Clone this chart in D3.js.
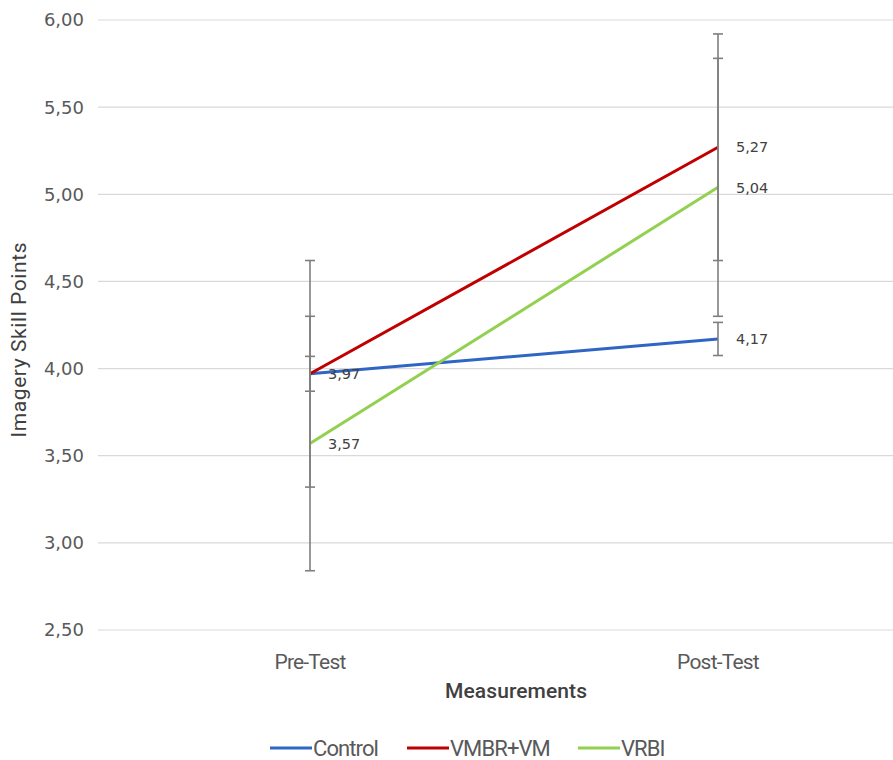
<!DOCTYPE html>
<html><head><meta charset="utf-8">
<script src="https://cdn.jsdelivr.net/npm/d3@7"></script>
<style>body{margin:0;background:#fff}</style>
</head><body>
<svg id="c" width="893" height="760"></svg>
<script>
const categories = ["Pre-Test", "Post-Test"];
const seriesNames = ["Control", "VMBR+VM", "VRBI"];
const controlValues = [3.97, 4.17];
const vmbrValues = [3.97, 5.27];
const vrbiValues = [3.57, 5.04];
const controlErr = [0.10, 0.095];
const vmbrErr = [0.65, 0.65];
const vrbiErr = [0.73, 0.74];
const yTicks = [2.5, 3.0, 3.5, 4.0, 4.5, 5.0, 5.5, 6.0];
const colors = ["#2f65c5", "#c00000", "#92d050"];

const series = [
  {name: seriesNames[0], values: controlValues, err: controlErr, color: colors[0]},
  {name: seriesNames[1], values: vmbrValues, err: vmbrErr, color: colors[1]},
  {name: seriesNames[2], values: vrbiValues, err: vrbiErr, color: colors[2]}
];

const svg = d3.select("#c");
const fmt = v => d3.format(".2f")(v).replace(".", ",");

const y = d3.scaleLinear().domain([2.5, 6.0]).range([630, 20]);
const x = d3.scalePoint().domain(categories).range([106, 922]).padding(0.5);

// gridlines
svg.append("g").selectAll("line").data(yTicks).join("line")
  .attr("x1", 98).attr("x2", 893)
  .attr("y1", d => y(d)).attr("y2", d => y(d))
  .attr("stroke", "#d9d9d9").attr("stroke-width", 1.2);

// y tick labels
svg.append("g").selectAll("text").data(yTicks).join("text")
  .attr("x", 84).attr("y", d => y(d)).attr("dy", "0.36em")
  .attr("text-anchor", "end")
  .attr("font-family", "DejaVu Sans").attr("font-size", 18)
  .attr("fill", "#595959").text(fmt);

// x tick labels
svg.append("g").selectAll("text").data(categories).join("text")
  .attr("x", d => x(d)).attr("y", 669)
  .attr("text-anchor", "middle")
  .attr("font-family", "Roboto").attr("font-size", 21).attr("letter-spacing", -0.8)
  .attr("fill", "#595959").text(d => d);

// axis titles
svg.append("text").attr("x", 516).attr("y", 698).attr("text-anchor", "middle")
  .attr("font-family", "Roboto").attr("font-size", 21).attr("font-weight", 500)
  .attr("textLength", 142).attr("lengthAdjust", "spacing")
  .attr("fill", "#404040").text("Measurements");
svg.append("text").attr("transform", "translate(26,340) rotate(-90)")
  .attr("text-anchor", "middle")
  .attr("font-family", "Roboto").attr("font-size", 21)
  .attr("textLength", 195).attr("lengthAdjust", "spacing")
  .attr("fill", "#404040").text("Imagery Skill Points");

// lines
const line = d3.line().x((d, i) => x(categories[i])).y(d => y(d));
svg.append("g").selectAll("path").data(series).join("path")
  .attr("d", s => line(s.values))
  .attr("fill", "none").attr("stroke", s => s.color).attr("stroke-width", 3);

// error bars
const eb = svg.append("g").attr("stroke", "#7f7f7f").attr("stroke-width", 1.6);
series.forEach(s => {
  s.values.forEach((v, i) => {
    const cx = x(categories[i]);
    const lo = v - s.err[i], hi = v + s.err[i];
    eb.append("line").attr("x1", cx).attr("x2", cx).attr("y1", y(lo)).attr("y2", y(hi));
    [lo, hi].forEach(e => eb.append("line")
      .attr("x1", cx - 5).attr("x2", cx + 5).attr("y1", y(e)).attr("y2", y(e)));
  });
});

// data labels (deduplicated)
const seen = new Set();
const labels = [];
series.forEach(s => s.values.forEach((v, i) => {
  const k = categories[i] + v;
  if (!seen.has(k)) { seen.add(k); labels.push({c: categories[i], v}); }
}));
svg.append("g").selectAll("text").data(labels).join("text")
  .attr("x", d => x(d.c) + 18).attr("y", d => y(d.v)).attr("dy", "0.36em")
  .attr("font-family", "DejaVu Sans").attr("font-size", 14.5)
  .attr("fill", "#404040").text(d => fmt(d.v));

// legend
const legX = [270, 407, 578];
const lg = svg.append("g").selectAll("g").data(series).join("g")
  .attr("transform", (d, i) => `translate(${legX[i]},748)`);
lg.append("line").attr("x1", 0).attr("x2", 42).attr("y1", 0).attr("y2", 0)
  .attr("stroke", d => d.color).attr("stroke-width", 3);
lg.append("text").attr("x", 43).attr("y", 0).attr("dy", "0.36em")
  .attr("font-family", "Roboto").attr("font-size", 22).attr("letter-spacing", -0.9)
  .attr("fill", "#595959").text(d => d.name);
</script>
</body></html>
